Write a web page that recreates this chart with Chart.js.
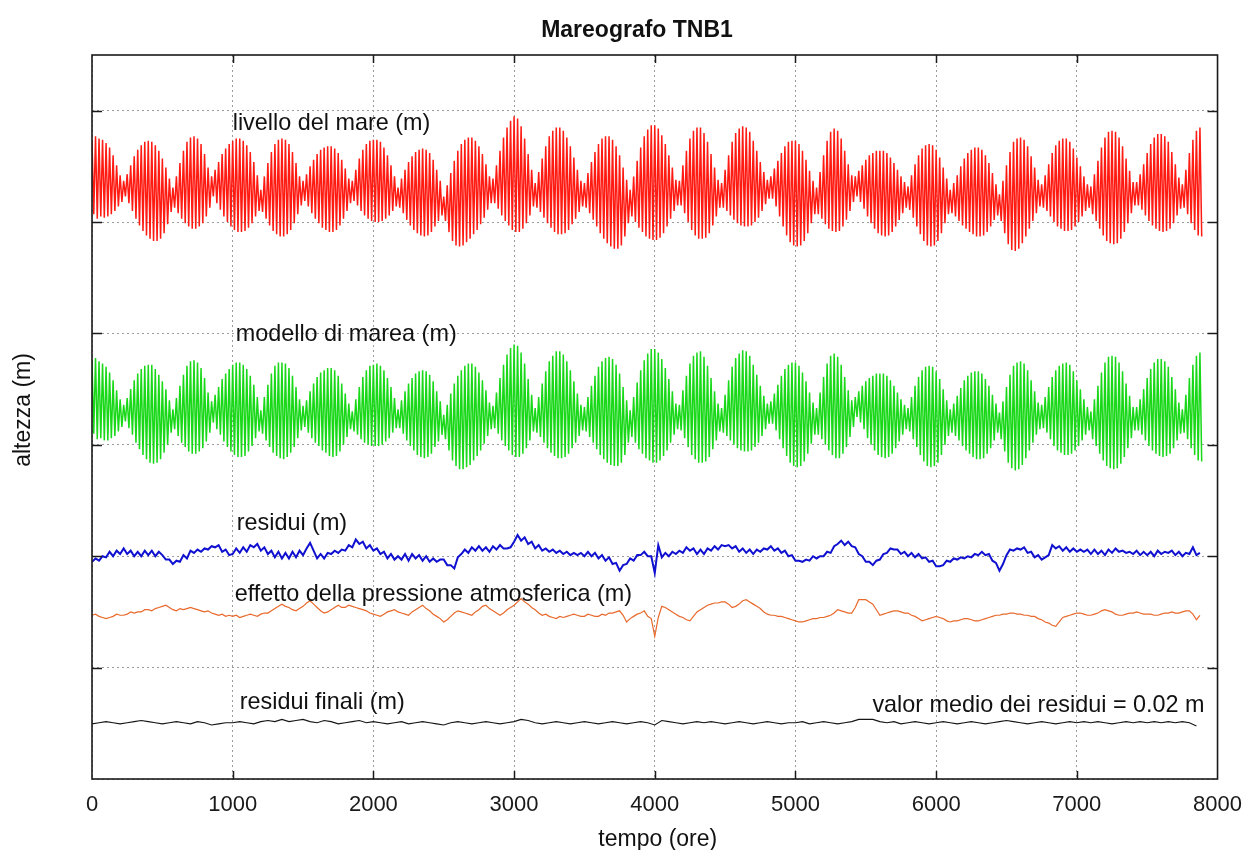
<!DOCTYPE html>
<html lang="it">
<head>
<meta charset="utf-8">
<title>Mareografo TNB1</title>
<script src="https://cdn.jsdelivr.net/npm/chart.js@4.4.1/dist/chart.umd.min.js"></script>
<style>
  html, body { margin: 0; padding: 0; background: #fff; }
  #wrap { position: relative; width: 1255px; height: 850px; }
</style>
</head>
<body>
<div id="wrap"><canvas id="c"></canvas></div>
<script>
// ---- sampling -------------------------------------------------------------
const TIDE_STEP_H = 25;      // one high and one low water per tidal day
const RESIDUAL_STEP_H = 25;  // residuals and pressure effect
const SMOOTH_STEP_H = 50;    // final residuals

// ---- x axis (hours) ---------------------------------------------------------
const hourTicks = [0, 1000, 2000, 3000, 4000, 5000, 6000, 7000, 8000];
const heightGrid = [0, 1, 2, 3, 4, 5, 6];

// ---- sea level, daily high / low water (cm about the mean) -----------------
const seaHighCm = [
  46,50,48,47,44,40,33,24,15,
  10,16,24,32,38,42,45,46,45,42,37,30,22,12,
  4,14,26,37,45,49,50,48,43,34,22,
  14,20,27,34,39,43,46,48,48,46,42,36,27,15,
  2,14,26,36,43,47,48,47,43,36,26,14,
  10,16,23,29,34,38,40,41,41,39,35,29,21,12,
  10,20,30,38,43,46,47,47,45,40,33,24,14,
  4,12,20,27,32,36,38,39,38,35,29,20,10,
  -4,6,17,28,37,43,47,49,49,46,41,34,25,14,
  12,24,37,49,58,64,68,66,59,48,34,20,
  8,18,30,41,50,55,58,58,55,49,41,31,20,10,
  8,17,27,36,43,48,50,50,47,41,33,22,11,
  2,14,28,40,50,56,60,60,57,51,43,33,22,11,
  10,24,37,48,55,58,58,53,45,34,22,11,
  8,20,33,45,53,57,59,58,54,46,37,27,18,11,
  14,21,28,35,41,45,46,46,43,37,29,19,10,
  4,18,33,46,54,57,55,48,37,25,15,
  14,19,24,29,33,35,37,37,37,35,31,26,20,14,9,
  5,15,25,33,39,42,43,42,38,31,22,12,
  2,8,15,23,30,35,38,40,40,38,33,26,17,7,
  -2,10,24,36,45,48,49,47,41,32,22,11,
  7,15,25,35,42,46,48,48,45,39,31,23,14,7,
  5,16,28,40,49,54,55,54,49,41,30,19,9,
  9,16,25,35,43,49,52,52,50,45,36,25,13,
  7,20,35,47,55,58
];
const seaLowCm = [
  -20,-24,-22,-23,-22,-20,-17,-13,-9,
  -4,-10,-17,-24,-30,-35,-39,-42,-44,-44,-42,-37,-29,-18,
  -14,-19,-24,-28,-31,-33,-33,-31,-28,-22,-14,
  -4,-10,-16,-22,-27,-31,-34,-36,-36,-35,-32,-28,-22,-17,
  -18,-24,-30,-35,-38,-40,-40,-38,-34,-28,-20,-12,
  -8,-13,-19,-24,-28,-32,-34,-36,-36,-34,-30,-24,-17,-10,
  -8,-12,-17,-21,-24,-26,-27,-27,-26,-24,-21,-17,-13,
  -14,-19,-25,-30,-34,-37,-39,-40,-39,-36,-31,-26,-21,
  -26,-36,-44,-48,-49,-48,-45,-42,-38,-34,-29,-23,-16,-10,
  -10,-15,-21,-26,-30,-34,-36,-36,-33,-28,-21,-13,
  -14,-18,-23,-28,-32,-36,-38,-38,-37,-34,-29,-24,-18,-13,
  -14,-19,-25,-31,-37,-42,-46,-49,-51,-51,-48,-40,-28,
  -22,-27,-32,-36,-40,-42,-43,-43,-41,-37,-31,-24,-17,-12,
  -12,-19,-27,-34,-39,-42,-42,-41,-37,-30,-22,-14,
  -14,-17,-21,-25,-28,-30,-31,-31,-30,-27,-23,-17,-11,-6,
  -6,-13,-22,-31,-39,-45,-48,-49,-48,-44,-37,-28,-20,
  -20,-24,-29,-33,-35,-36,-35,-31,-25,-17,-9,
  -4,-9,-15,-22,-28,-33,-37,-39,-40,-39,-36,-31,-25,-19,-14,
  -16,-23,-31,-38,-44,-48,-49,-48,-44,-37,-28,-20,
  -19,-22,-26,-30,-33,-36,-38,-40,-40,-39,-36,-31,-25,-21,
  -26,-37,-47,-52,-53,-51,-46,-40,-33,-26,-19,-13,
  -14,-17,-22,-27,-31,-33,-35,-35,-34,-31,-27,-22,-17,-14,
  -20,-26,-33,-39,-44,-46,-47,-46,-42,-36,-28,-19,-12,
  -12,-16,-21,-26,-30,-33,-35,-36,-35,-33,-28,-21,-15,
  -14,-20,-28,-34,-39,-40
];

// ---- tide model, daily high / low water (cm) ---------------------------------
const modelHighCm = [
  48,51,48,46,43,38,31,22,14,
  9,15,23,31,37,41,44,45,45,41,36,30,23,13,
  5,15,26,36,44,48,49,47,42,33,20,
  12,18,25,32,37,41,45,47,47,45,41,35,27,16,
  4,16,27,37,44,47,47,46,42,35,25,14,
  8,13,21,28,34,38,40,42,42,40,35,28,19,10,
  3,14,25,34,40,44,45,46,44,40,33,25,15,
  5,13,21,28,33,37,39,40,39,36,30,21,12,
  0,9,19,28,35,40,44,46,46,43,38,31,22,11,
  8,20,33,45,54,60,63,62,56,46,32,18,
  6,16,28,39,48,53,57,57,54,48,40,30,19,9,
  7,16,26,35,43,48,51,52,50,45,37,25,13,
  4,16,29,40,49,55,59,59,56,50,42,32,21,10,
  9,22,35,46,53,56,57,52,44,33,21,10,
  6,18,31,43,51,55,58,57,53,45,36,26,17,10,
  12,19,27,35,41,45,47,47,44,38,30,20,11,
  6,20,34,46,53,55,52,45,34,22,13,
  16,21,26,30,33,35,37,37,37,35,31,26,20,14,9,
  6,16,26,34,40,43,44,43,39,32,23,13,
  5,10,17,24,31,35,38,39,39,37,32,26,18,10,
  2,12,25,36,44,47,48,46,40,31,21,11,
  9,16,25,34,40,44,46,47,45,39,31,23,14,7,
  3,14,26,38,47,52,53,52,47,39,28,17,7,
  7,14,23,33,41,47,50,50,48,43,34,23,11,
  5,18,33,45,53,56
];
const modelLowCm = [
  -17,-22,-21,-23,-23,-21,-19,-15,-11,
  -6,-12,-18,-25,-31,-36,-40,-43,-44,-43,-40,-34,-27,-16,
  -13,-19,-25,-29,-33,-35,-35,-33,-30,-24,-16,
  -7,-13,-18,-24,-29,-33,-36,-38,-38,-37,-33,-28,-21,-15,
  -17,-23,-29,-34,-37,-39,-40,-38,-34,-29,-21,-14,
  -11,-16,-21,-25,-28,-32,-34,-37,-38,-37,-33,-27,-20,-13,
  -15,-18,-22,-25,-27,-28,-28,-28,-27,-24,-21,-16,-12,
  -12,-17,-23,-28,-32,-36,-38,-39,-38,-35,-29,-24,-18,
  -22,-32,-41,-46,-49,-49,-47,-45,-41,-37,-32,-26,-19,-13,
  -12,-17,-23,-28,-32,-36,-38,-38,-35,-30,-23,-15,
  -16,-20,-25,-30,-34,-37,-39,-39,-38,-35,-30,-25,-19,-14,
  -15,-20,-25,-31,-36,-40,-43,-45,-46,-46,-43,-36,-25,
  -20,-25,-31,-35,-39,-41,-43,-43,-41,-37,-32,-25,-18,-13,
  -14,-21,-29,-36,-40,-43,-43,-42,-38,-31,-23,-15,
  -16,-19,-23,-27,-30,-32,-33,-33,-32,-29,-25,-19,-13,-8,
  -8,-14,-22,-30,-37,-43,-46,-47,-46,-42,-35,-26,-18,
  -18,-22,-27,-32,-36,-39,-39,-35,-29,-20,-11,
  -2,-7,-13,-21,-27,-32,-36,-38,-39,-38,-35,-30,-24,-18,-13,
  -15,-22,-29,-36,-42,-46,-47,-46,-43,-36,-27,-19,
  -16,-19,-23,-28,-32,-35,-38,-40,-40,-39,-35,-30,-23,-16,
  -22,-33,-43,-48,-50,-49,-45,-39,-32,-25,-18,-13,
  -12,-16,-22,-28,-32,-34,-36,-36,-35,-32,-28,-23,-18,-14,
  -22,-28,-35,-41,-46,-48,-49,-48,-44,-38,-30,-21,-14,
  -14,-18,-23,-28,-32,-35,-37,-38,-37,-35,-30,-23,-17,
  -16,-22,-30,-36,-41,-42
];

// ---- residuals (sea level - model), cm, every 25 h ----------------------------
const residualCm = [
  -5,-2,-4,0,-1,4,0,5,2,7,2,5,0,4,0,5,1,5,0,4,
  1,-3,-3,-7,-4,-5,1,-2,5,3,6,4,7,6,9,8,10,4,6,1,
  2,7,3,8,4,10,8,11,5,8,2,5,-1,4,-2,3,-2,4,-1,5,
  1,7,12,5,-2,2,-2,3,2,5,3,6,5,10,8,15,11,13,7,10,
  5,7,2,4,-2,2,-3,0,-3,2,-4,2,-2,1,-4,0,-5,-2,-5,-3,
  -3,-8,-8,-11,-1,2,6,3,8,5,9,5,8,4,9,6,10,7,7,8,
  13,19,14,17,11,13,7,10,5,7,4,6,3,5,2,4,1,3,1,3,
  0,4,0,3,-2,1,-4,-1,-7,-6,-13,-8,-7,-2,-4,1,1,4,0,0,
  -15,10,-1,3,0,4,2,5,3,8,5,7,2,6,2,7,5,9,6,10,
  9,10,7,9,4,7,3,6,2,6,4,7,6,9,5,7,3,5,0,1,
  -4,-4,-5,-3,-4,0,-2,0,0,4,3,9,11,14,10,13,9,8,2,0,
  -5,-5,-8,-4,-3,2,3,7,6,6,2,4,0,3,-1,2,-2,-1,-5,-4,
  -9,-9,-8,-4,-5,-2,-3,-1,-2,0,-1,2,1,4,1,2,-4,-6,-13,-7,
  1,6,5,7,6,8,3,4,-1,1,-3,-1,1,10,7,9,5,8,4,7,
  4,6,4,6,2,6,2,5,1,6,3,7,4,5,3,4,2,5,1,4,
  1,4,0,5,2,4,3,5,1,4,0,3,2,8,1,3
];

// ---- atmospheric pressure effect, cm, every 25 h ------------------------------
const pressureCm = [
  -2,-1,-3,-4,-5,-4,-3,-1,-2,-2,-1,1,0,1,1,3,3,2,4,5,
  6,7,5,3,2,4,3,4,5,4,3,2,1,2,0,-1,-2,-1,-3,-2,
  -3,-2,-4,-3,-2,-1,-2,-3,-1,0,0,2,4,6,8,6,5,3,2,4,
  6,9,11,8,5,2,0,1,3,5,7,5,5,7,6,5,4,3,2,0,
  -1,-2,-3,-1,1,2,3,1,0,-1,-2,1,3,5,7,4,2,-1,-3,-5,
  -8,-6,-3,0,2,1,0,-1,-2,1,3,6,7,4,2,0,-2,0,3,5,
  7,10,13,10,8,5,3,0,-2,-1,-3,-4,-5,-3,-4,-3,-2,-1,-2,-3,
  -3,-1,-2,-3,-3,-1,-2,0,0,1,2,-2,-8,-5,-3,-1,0,2,-3,-5,
  -21,-4,6,5,3,1,-1,-3,-4,-6,-7,-3,1,3,5,7,8,9,9,10,
  10,8,5,6,8,11,12,10,8,6,4,1,-1,-2,-2,-3,-3,-4,-5,-6,
  -7,-8,-8,-7,-6,-5,-5,-4,-4,-3,-2,0,3,2,1,0,0,5,12,12,
  12,10,8,3,-2,-1,0,1,2,2,1,0,0,-2,-3,-5,-7,-6,-5,-4,
  -3,-4,-5,-7,-8,-7,-7,-6,-5,-5,-6,-7,-7,-6,-5,-4,-3,-2,-2,-1,
  -1,0,0,-1,-1,-2,-2,-3,-3,-5,-6,-8,-9,-11,-12,-8,-4,-3,-2,-1,
  0,0,-1,-2,-2,-1,0,2,3,2,1,-1,-2,-2,-1,0,0,1,0,-1,
  -1,-1,-2,-2,-1,0,0,1,0,0,1,2,2,-1,-6,-2
];

// ---- final residuals (residuals - pressure effect), cm, every 50 h -------------
const finalResidualCm = [
  1,2,3,2,1,2,3,4,3,2,1,2,3,2,1,3,2,0,1,2,
  2,3,2,1,3,4,3,5,3,4,5,3,2,4,3,1,2,3,4,2,
  3,2,1,2,3,1,2,3,2,1,0,2,3,2,1,2,3,2,1,2,
  3,5,4,2,1,2,3,2,1,2,3,2,1,2,3,2,1,2,3,2,
  0,4,3,2,1,2,3,2,3,2,1,2,3,2,1,2,3,2,1,2,
  2,3,1,2,3,2,1,2,3,5,5,5,3,2,3,1,2,3,2,1,
  2,3,2,1,2,3,2,1,2,3,4,3,2,1,2,3,2,1,2,3,
  2,3,2,3,2,1,2,3,2,3,2,3,2,3,2,3,2,-1
];

// ---- texts --------------------------------------------------------------------
const chartTitle = 'Mareografo TNB1';
const xTitle = 'tempo (ore)';
const yTitle = 'altezza (m)';
const traceNames = [
  'livello del mare (m)',
  'modello di marea (m)',
  'residui (m)',
  'effetto della pressione atmosferica (m)',
  'residui finali (m)'
];
const meanNote = 'valor medio dei residui = 0.02 m';

// ---- layout: vertical stacking of the traces (m on the plotting axis) -----------
const TRACE_BASE_M = [5.27, 3.27, 2.0, 1.49, 0.485];
const TRACE_COLORS = ['#ff1a12', '#18d818', '#1010d0', '#e8692c', '#151515'];
const TRACE_WIDTHS = [1.5, 1.5, 2, 1.2, 1.1];
// label anchors: hours from the left, baseline height on the plotting axis
const NAME_ANCHORS = [[1000, 5.826], [1000, 3.93], [1000, 2.232], [1000, 1.595], [1000, 0.629]];
const NAME_SHIFT_PX = [0, 3, 4, 2, 7];
const NOTE_ANCHOR = [7908, 0.604];

const FONT = "'Liberation Sans', Arial, Helvetica, sans-serif";

function tideTrace(highs, lows, base) {
  const n = Math.min(highs.length, lows.length);
  const pts = [];
  for (let i = 0; i < n; i++) {
    pts.push({ x: i * TIDE_STEP_H, y: base + highs[i] / 100 });
    pts.push({ x: i * TIDE_STEP_H + TIDE_STEP_H / 2, y: base + lows[i] / 100 });
  }
  return pts;
}
function sampledTrace(values, step, base) {
  return values.map((v, i) => ({ x: i * step, y: base + v / 100 }));
}

const traces = [
  tideTrace(seaHighCm, seaLowCm, TRACE_BASE_M[0]),
  tideTrace(modelHighCm, modelLowCm, TRACE_BASE_M[1]),
  sampledTrace(residualCm, RESIDUAL_STEP_H, TRACE_BASE_M[2]),
  sampledTrace(pressureCm, RESIDUAL_STEP_H, TRACE_BASE_M[3]),
  sampledTrace(finalResidualCm, SMOOTH_STEP_H, TRACE_BASE_M[4])
];

const datasets = traces.map((data, i) => ({
  label: traceNames[i],
  data,
  borderColor: TRACE_COLORS[i],
  borderWidth: TRACE_WIDTHS[i],
  pointRadius: 0,
  fill: false,
  tension: 0
}));

// frame, inward tick marks and the free texts
const framePlugin = {
  id: 'frameAndTexts',
  afterDraw(chart) {
    const { ctx, chartArea: a, scales: { x, y } } = chart;
    ctx.save();

    ctx.strokeStyle = '#1a1a1a';
    ctx.lineWidth = 1.5;
    const seg = (x1, y1, x2, y2) => { ctx.beginPath(); ctx.moveTo(x1, y1); ctx.lineTo(x2, y2); ctx.stroke(); };
    heightGrid.slice(1).forEach(v => {
      const py = Math.round(y.getPixelForValue(v)) + 0.5;
      seg(a.left, py, a.left + 10, py);
      seg(a.right - 10, py, a.right, py);
    });
    hourTicks.slice(1, -1).forEach(v => {
      const px = Math.round(x.getPixelForValue(v)) + 0.5;
      seg(px, a.bottom, px, a.bottom - 8);
      seg(px, a.top, px, a.top + 8);
    });
    ctx.lineWidth = 1.6;
    ctx.strokeRect(a.left, a.top, a.right - a.left, a.bottom - a.top);

    ctx.fillStyle = '#111';
    ctx.textBaseline = 'alphabetic';

    ctx.font = `bold 23px ${FONT}`;
    ctx.textAlign = 'center';
    ctx.fillText(chartTitle, 637, 37);

    ctx.font = `23px ${FONT}`;
    ctx.fillText(xTitle, (a.left + a.right) / 2 + 3, 846);

    ctx.save();
    ctx.translate(30, (a.top + a.bottom) / 2 - 7);
    ctx.rotate(-Math.PI / 2);
    ctx.fillText(yTitle, 0, 0);
    ctx.restore();

    ctx.font = `23.4px ${FONT}`;
    ctx.textAlign = 'left';
    traceNames.forEach((t, i) => {
      const [h, m] = NAME_ANCHORS[i];
      ctx.fillText(t, x.getPixelForValue(h) + NAME_SHIFT_PX[i], y.getPixelForValue(m));
    });
    ctx.textAlign = 'right';
    ctx.fillText(meanNote, x.getPixelForValue(NOTE_ANCHOR[0]), y.getPixelForValue(NOTE_ANCHOR[1]));

    ctx.restore();
  }
};

const gridStyle = { color: '#9c9c9c', lineWidth: 1, drawTicks: false };
const dotted = { display: false, dash: [2, 3] };

new Chart(document.getElementById('c'), {
  type: 'line',
  data: { datasets },
  options: {
    responsive: true,
    maintainAspectRatio: false,
    animation: false,
    parsing: false,
    normalized: true,
    events: [],
    layout: { padding: { left: 92, right: 37, top: 55, bottom: 0 } },
    plugins: { legend: { display: false }, tooltip: { enabled: false }, title: { display: false } },
    scales: {
      x: {
        type: 'linear',
        min: hourTicks[0],
        max: hourTicks[hourTicks.length - 1],
        afterBuildTicks: s => { s.ticks = hourTicks.map(v => ({ value: v })); },
        afterFit: s => { s.height = 71; },
        ticks: {
          font: { family: FONT, size: 22 },
          color: '#1a1a1a',
          padding: 13,
          maxRotation: 0,
          autoSkip: false,
          callback: v => String(v)
        },
        grid: gridStyle,
        border: dotted
      },
      y: {
        type: 'linear',
        min: 0,
        max: 6.5,
        afterBuildTicks: s => { s.ticks = heightGrid.map(v => ({ value: v })); },
        afterFit: s => { s.width = 0; },
        ticks: { display: false },
        grid: gridStyle,
        border: dotted
      }
    }
  },
  plugins: [framePlugin]
});
</script>
</body>
</html>
